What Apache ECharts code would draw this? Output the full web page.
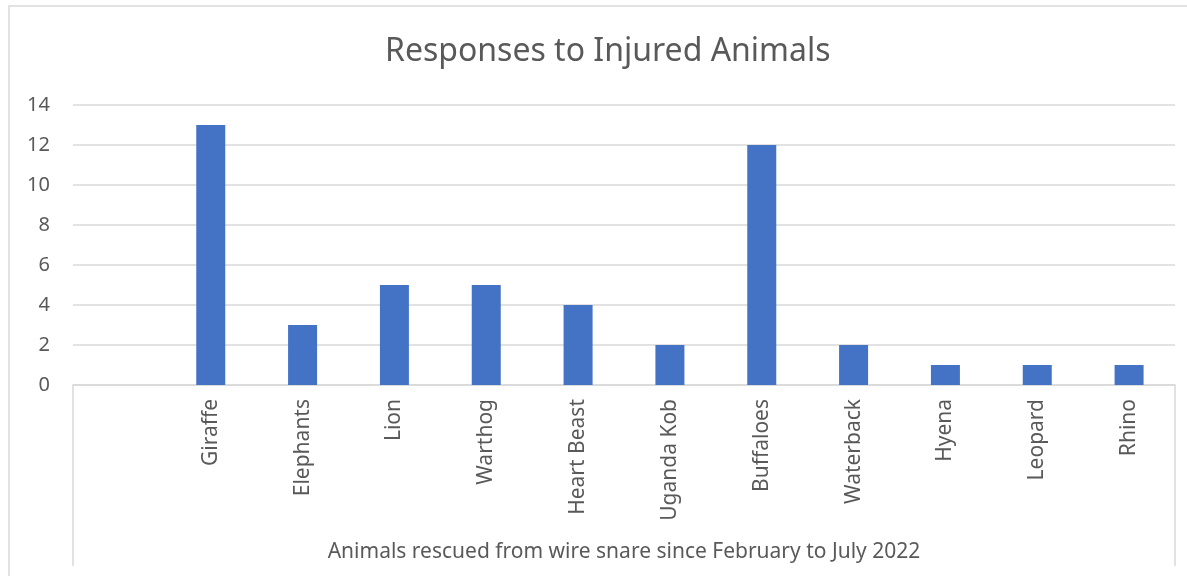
<!DOCTYPE html>
<html>
<head>
<meta charset="utf-8">
<script src="https://cdn.jsdelivr.net/npm/echarts@6/dist/echarts.min.js"></script>
<style>
  html, body { margin: 0; padding: 0; background: #fff; }
  #chart01 { width: 1187px; height: 576px; }
</style>
</head>
<body>
<div id="chart01"></div>
<script>
// first slot is empty in the original chart
var animals = ['', 'Giraffe', 'Elephants', 'Lion', 'Warthog', 'Heart Beast', 'Uganda Kob', 'Buffaloes', 'Waterback', 'Hyena', 'Leopard', 'Rhino'];
var responses = [null, 13, 3, 5, 5, 4, 2, 12, 2, 1, 1, 1];
var yTicks = [0, 2, 4, 6, 8, 10, 12, 14];

var font = 'Noto Sans';
var textColor = '#595959';
var lineColor = '#d9d9d9';

var myChart = echarts.init(document.getElementById('chart01'));
var option = {
    backgroundColor: '#fff',
    animation: false,
    title: {
        text: 'Responses to Injured Animals',
        left: 380,
        top: 31,
        textStyle: { fontFamily: font, fontSize: 32, fontWeight: 'normal', color: textColor }
    },
    grid: { left: 73, right: 12, top: 105, bottom: 191 },
    xAxis: {
        type: 'category',
        data: animals,
        name: 'Animals rescued from wire snare since February to July 2022',
        nameLocation: 'middle',
        nameGap: 157,
        nameTextStyle: { fontFamily: font, fontSize: 21, color: textColor },
        axisLine: { lineStyle: { color: lineColor, width: 1.5 } },
        axisTick: { show: false },
        axisLabel: {
            rotate: 90,
            margin: 14,
            interval: 0,
            fontFamily: font,
            fontSize: 21,
            color: textColor
        }
    },
    yAxis: {
        type: 'value',
        min: yTicks[0],
        max: yTicks[yTicks.length - 1],
        interval: 2,
        axisLine: { show: false },
        axisTick: { show: false },
        axisLabel: { margin: 23, fontFamily: font, fontSize: 20, color: textColor },
        splitLine: { lineStyle: { color: lineColor, width: 1.5 } }
    },
    series: [{
        name: 'Responses',
        type: 'bar',
        barWidth: 29,
        itemStyle: { color: '#4472c4' },
        data: responses
    }],
    graphic: [
        // outer chart frame
        { type: 'rect', shape: { x: 9, y: 6, width: 1200, height: 620 }, style: { fill: 'none', stroke: lineColor, lineWidth: 1.5 }, silent: true },
        // box under category axis
        { type: 'line', shape: { x1: 73, y1: 385, x2: 73, y2: 566 }, style: { stroke: lineColor, lineWidth: 1.5 }, silent: true },
        { type: 'line', shape: { x1: 1175, y1: 385, x2: 1175, y2: 566 }, style: { stroke: lineColor, lineWidth: 1.5 }, silent: true }
    ]
};
myChart.setOption(option);
</script>
</body>
</html>
